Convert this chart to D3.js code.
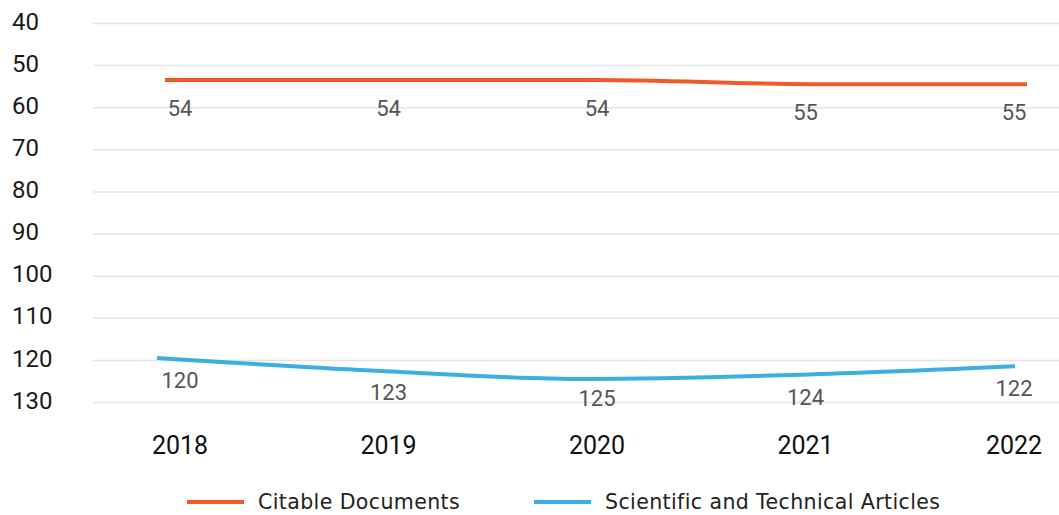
<!DOCTYPE html>
<html>
<head>
<meta charset="utf-8">
<script src="https://cdn.jsdelivr.net/npm/d3@7"></script>
<style>
  body { margin: 0; background: #fff; }
  svg { display: block; font-family: Roboto, "Noto Sans", sans-serif; }
</style>
</head>
<body>
<div id="chart"></div>
<script>
// chart data
var years = ["2018", "2019", "2020", "2021", "2022"];
var citable = [54, 54, 54, 55, 55];
var articles = [120, 123, 125, 124, 122];
var yTicks = [40, 50, 60, 70, 80, 90, 100, 110, 120, 130];
var seriesNames = ["Citable Documents", "Scientific and Technical Articles"];
var seriesColors = ["#f05a28", "#3aafe0"];

var width = 1059, height = 515;

var svg = d3.select("#chart").append("svg")
	.attr("width", width)
	.attr("height", height);

// y axis is reversed: small values on top
var y = d3.scaleLinear()
	.domain([40, 130])
	.range([21, 400]);

// year labels and the two lines sit on slightly different x positions
var xLabel = d3.scalePoint().domain(years).range([180, 1014]);
var xOrange = d3.scalePoint().domain(years).range([165, 1027]);
var xBlue = d3.scalePoint().domain(years).range([157, 1015]);

// gridlines
svg.append("g")
	.selectAll("line")
	.data(yTicks)
	.enter().append("line")
	.attr("x1", 93)
	.attr("x2", width)
	.attr("y1", function (d) { return y(d) + 2.5; })
	.attr("y2", function (d) { return y(d) + 2.5; })
	.attr("stroke", "#e4e4e4")
	.attr("stroke-width", 1.5);

// y labels
svg.append("g")
	.selectAll("text")
	.data(yTicks)
	.enter().append("text")
	.attr("x", 12)
	.attr("y", function (d) { return y(d); })
	.attr("dy", "0.36em")
	.attr("font-size", 24)
	.attr("fill", "#1a1a1a")
	.text(function (d) { return d; });

// x labels
svg.append("g")
	.selectAll("text")
	.data(years)
	.enter().append("text")
	.attr("x", function (d) { return xLabel(d); })
	.attr("y", 454)
	.attr("text-anchor", "middle")
	.attr("font-size", 25)
	.attr("fill", "#111")
	.text(function (d) { return d; });

function drawSeries(values, xs, color, dy, maxY) {
	var pts = years.map(function (yr, i) { return {year: yr, v: values[i]}; });
	var line = d3.line()
		.x(function (d) { return xs(d.year); })
		.y(function (d) { return y(d.v); })
		.curve(d3.curveMonotoneX);
	svg.append("path")
		.datum(pts)
		.attr("d", line)
		.attr("fill", "none")
		.attr("stroke", color)
		.attr("stroke-width", 4);
	svg.append("g")
		.selectAll("text")
		.data(pts)
		.enter().append("text")
		.attr("x", function (d) { return xLabel(d.year); })
		.attr("y", function (d) { return Math.min(y(d.v) + dy, maxY); })
		.attr("dy", "0.36em")
		.attr("text-anchor", "middle")
		.attr("font-size", 22)
		.attr("fill", "#555")
		.text(function (d) { return d.v; });
}

drawSeries(citable, xOrange, seriesColors[0], 28, 400);
drawSeries(articles, xBlue, seriesColors[1], 22, 398);

// legend
var legendX = [187, 534];
var legend = svg.append("g")
	.selectAll("g")
	.data(seriesNames)
	.enter().append("g")
	.attr("transform", function (d, i) { return "translate(" + legendX[i] + ",502)"; });
legend.append("line")
	.attr("x1", 0)
	.attr("x2", 57)
	.attr("stroke", function (d, i) { return seriesColors[i]; })
	.attr("stroke-width", 4);
legend.append("text")
	.attr("x", 71)
	.attr("dy", "0.36em")
	.attr("font-family", "'DejaVu Sans', sans-serif")
	.attr("font-size", 20.5)
	.attr("letter-spacing", 0.4)
	.attr("fill", "#222")
	.text(function (d) { return d; });
</script>
</body>
</html>
